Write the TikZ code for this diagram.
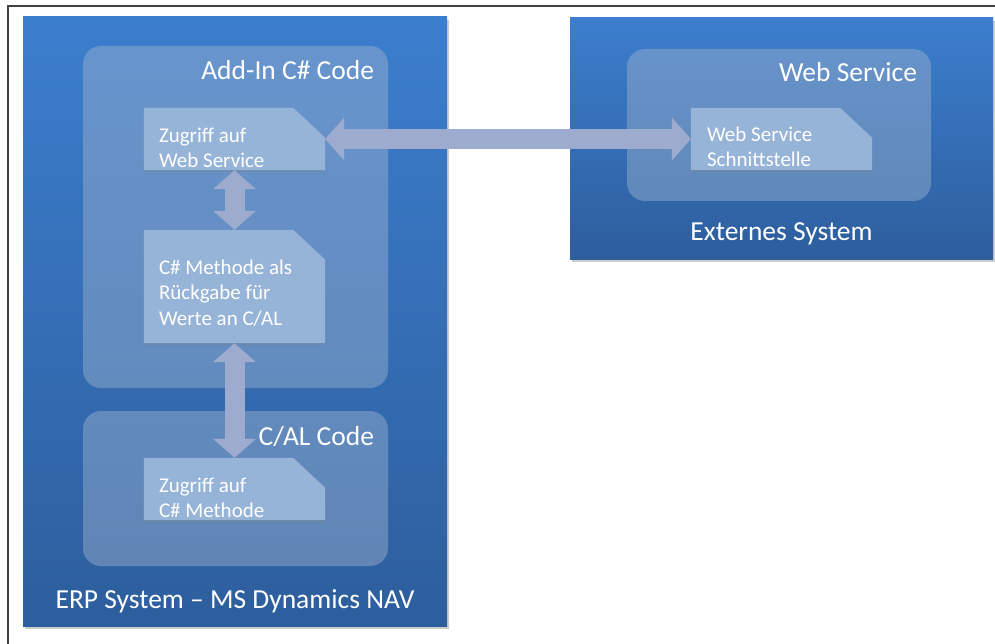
\documentclass[tikz,border=0pt]{standalone}
\usepackage{fontspec}
\setmainfont{Carlito}
\usetikzlibrary{arrows.meta,shadows}

\definecolor{sysblue}{HTML}{3C7ECE}
\definecolor{sysdark}{HTML}{2D5E9D}
\definecolor{panel}{HTML}{9DB3CF}
\definecolor{paper}{HTML}{96B3D8}
\definecolor{arrowcol}{HTML}{9DABCF}

% Blatt mit abgeschnittener Ecke oben rechts
\newcommand\docpaper[1]{%
  \fill[paper, drop shadow={opacity=.3,shadow xshift=0pt,shadow yshift=-2pt}]
    (#1.south west) -- (#1.north west) -- ([xshift=-32pt]#1.north east)
    -- ([yshift=-30pt]#1.north east) -- (#1.south east) -- cycle;}

\begin{document}
\begin{tikzpicture}[x=1pt, y=-1pt,
    sysbox/.style={top color=sysblue, bottom color=sysdark, inner sep=0,
      drop shadow={opacity=.4,shadow xshift=2pt,shadow yshift=-3pt}},
    panelbox/.style={fill=panel, fill opacity=.45, rounded corners=18pt, inner sep=0},
    docbox/.style={inner sep=0, minimum width=181pt},
    title/.style={text=white, font=\fontsize{27.5}{32}\selectfont, inner sep=0},
    doctext/.style={text=white, font=\fontsize{21}{25.5}\selectfont,
      align=left, inner sep=0, anchor=north west},
    bigarrow/.style={draw=arrowcol, line width=20pt,
      {Triangle[length=19pt,width=42pt]}-{Triangle[length=19pt,width=42pt]}}]
  \useasboundingbox (0,0) rectangle (995,644);
  % Rahmen
  \draw[black!75, line width=1.3pt] (8,644) -- (8,6) -- (995,6);
  % ERP System
  \node[sysbox, minimum width=424pt, minimum height=609pt] (erp) at (235,321.5) {};
  \node[title, anchor=base] (erplbl) at ([yshift=18pt]erp.south) {ERP System -- MS Dynamics NAV};
  \node[panelbox, minimum width=305pt, minimum height=342pt] (addin) at (235.5,217) {};
  \node[title, anchor=base east] (addinlbl) at ([xshift=-14pt,yshift=-34pt]addin.north east) {Add-In C\# Code};
  \node[panelbox, minimum width=305pt, minimum height=155pt] (cal) at (235.5,488.5) {};
  \node[title, anchor=base east] (callbl) at ([xshift=-14pt,yshift=-35pt]cal.north east) {C/AL Code};
  % Externes System
  \node[sysbox, minimum width=423pt, minimum height=241pt] (ext) at (781.5,138.5) {};
  \node[title, anchor=base] (extlbl) at ([yshift=19pt]ext.south) {Externes System};
  \node[panelbox, minimum width=304pt, minimum height=152pt] (ws) at (779,125) {};
  \node[title, anchor=base east] (wslbl) at ([xshift=-14pt,yshift=-33pt]ws.north east) {Web Service};
  % Blaetter
  \node[docbox, minimum height=62pt] (zws) at (234.5,139) {};
  \docpaper{zws}
  \node[doctext] (zwstxt) at ([xshift=15pt,yshift=-19.5pt]zws.north west) {Zugriff auf\\Web Service};
  \node[docbox, minimum height=113pt] (cm) at (234.5,286.5) {};
  \docpaper{cm}
  \node[doctext] (cmtxt) at ([xshift=15pt,yshift=-29.5pt]cm.north west) {C\# Methode als\\Rückgabe für\\Werte an C/AL};
  \node[docbox, minimum height=62pt] (zcm) at (234.5,489) {};
  \docpaper{zcm}
  \node[doctext] (zcmtxt) at ([xshift=15pt,yshift=-19.5pt]zcm.north west) {Zugriff auf\\C\# Methode};
  \node[docbox, minimum height=62pt] (wss) at (781.5,139) {};
  \docpaper{wss}
  \node[doctext] (wsstxt) at ([xshift=16pt,yshift=-18.5pt]wss.north west) {Web Service\\Schnittstelle};
  % Pfeile
  \draw[bigarrow] (zws.east) -- (wss.west);
  \draw[bigarrow] (zws.south) -- (cm.north);
  \draw[bigarrow] (cm.south) -- (zcm.north);
\end{tikzpicture}
\end{document}
